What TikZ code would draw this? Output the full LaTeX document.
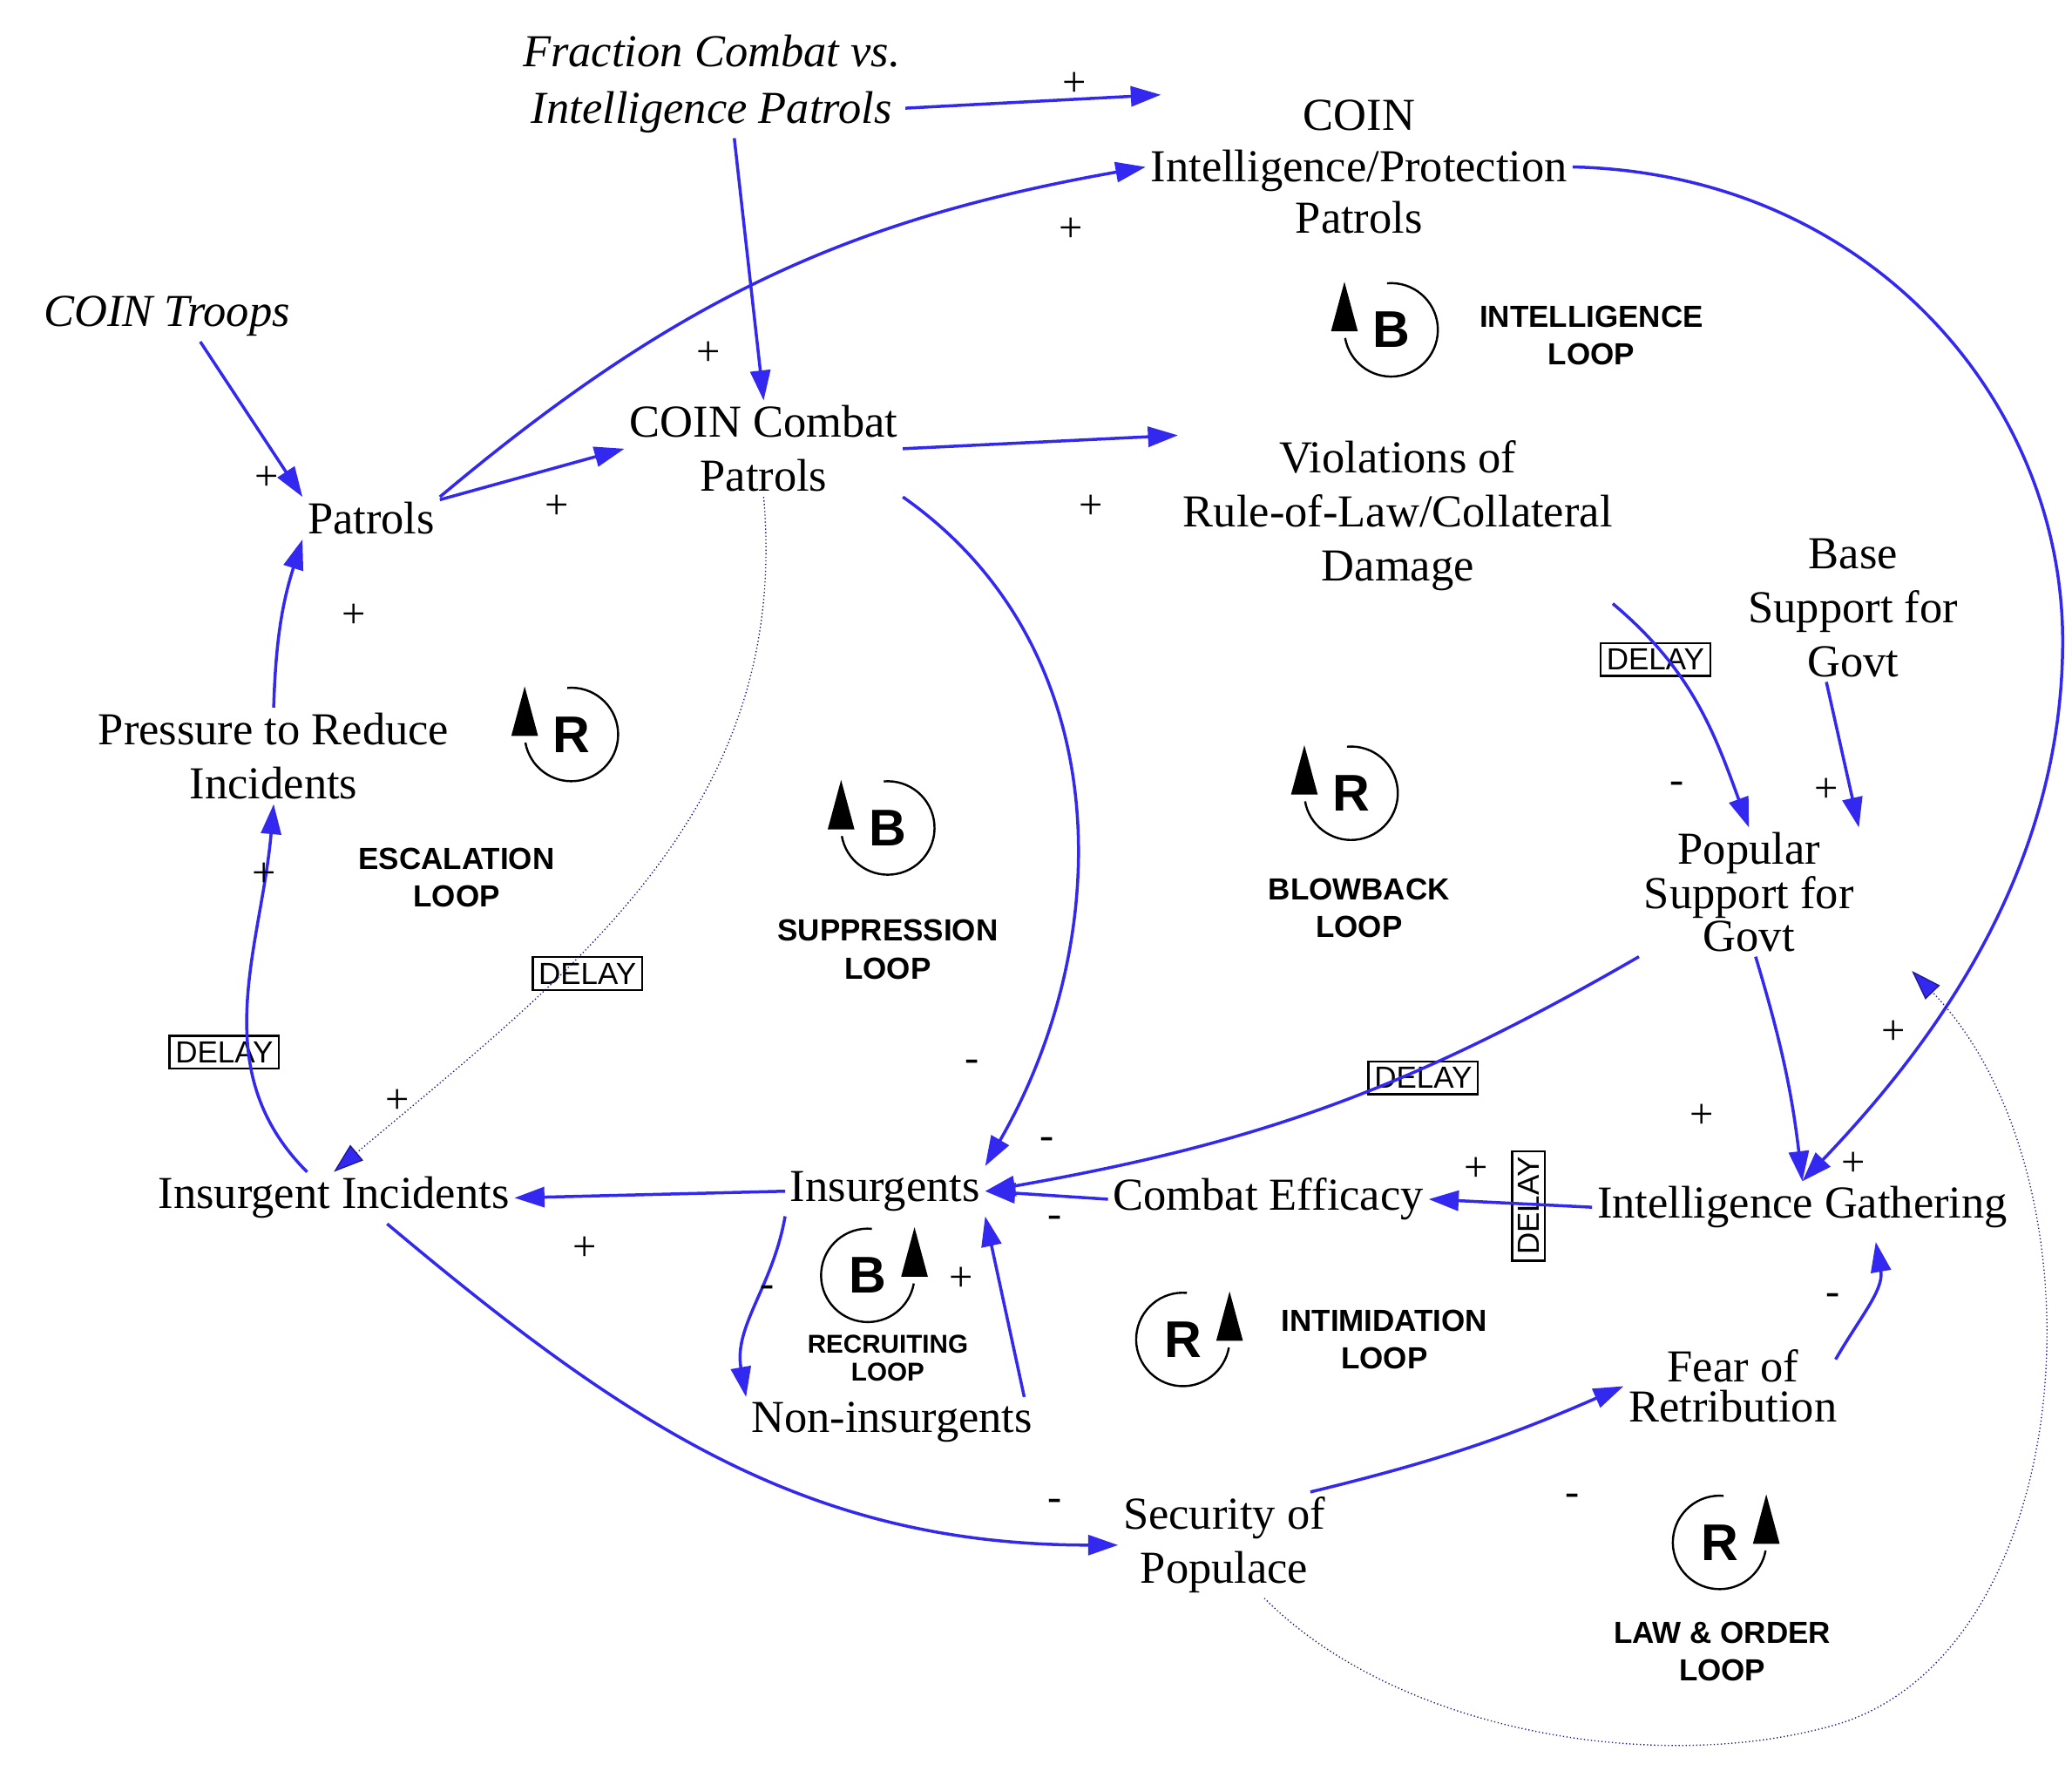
\documentclass[tikz,border=0pt]{standalone}
\usepackage{fontspec}
\setmainfont{Liberation Serif}
\newfontfamily\lsans{Liberation Sans}
\usetikzlibrary{arrows.meta}
\definecolor{ab}{RGB}{50,40,240}
\begin{document}
\begin{tikzpicture}[x=0.02cm,y=-0.02cm,
 v/.style={align=center,font=\fontsize{19.5}{23}\selectfont,inner sep=2pt},
 vi/.style={v,font=\fontsize{19.5}{24}\selectfont\itshape},
 lp/.style={align=center,font=\lsans\bfseries\fontsize{13}{16}\selectfont},
 dl/.style={draw,line width=0.9pt,font=\lsans\fontsize{13}{13}\selectfont,inner sep=2.5pt},
 a/.style={draw=ab,line width=1.3pt,-{Triangle[length=0.45cm,width=0.3cm]}},
 ad/.style={draw=ab!60!black,densely dotted,line width=0.5pt,-{Triangle[length=0.45cm,width=0.3cm,fill=ab]}},
 s/.style={font=\fontsize{18}{18}\selectfont,inner sep=0pt}]
\useasboundingbox (0,0) rectangle (1552,1326);
% nodes
\node[vi] (frac) at (533,63) {Fraction Combat vs.\\Intelligence Patrols};
\node[v,font=\fontsize{19.5}{22}\selectfont] (intel) at (1018,125) {COIN\\Intelligence/Protection\\Patrols};
\node[vi] (troops) at (125,237) {COIN Troops};
\node[v] (patrols) at (278,388) {Patrols};
\node[v] (combat) at (572,336) {COIN Combat\\Patrols};
\node[v] (viol) at (1047,386) {Violations of\\Rule-of-Law/Collateral\\Damage};
\node[v] (base) at (1388,455) {Base\\Support for\\Govt};
\node[v,font=\fontsize{19.5}{17}\selectfont] (pop) at (1310,668) {Popular\\Support for\\Govt};
\node[v] (press) at (205,566) {Pressure to Reduce\\Incidents};
\node[v] (incid) at (250,897) {Insurgent Incidents};
\node[v] (insurg) at (663,892) {Insurgents};
\node[v] (eff) at (950,898) {Combat Efficacy};
\node[v] (gath) at (1350,904) {Intelligence Gathering};
\node[v] (non) at (668,1065) {Non-insurgents};
\node[v,font=\fontsize{19.5}{17}\selectfont] (fear) at (1298,1038) {Fear of\\Retribution};
\node[v] (sec) at (917,1157) {Security of\\Populace};
% loop labels
\node[lp] (l1) at (1192,251) {INTELLIGENCE\\LOOP};
\node[lp] (l2) at (342,657) {ESCALATION\\LOOP};
\node[lp] (l3) at (665,711) {SUPPRESSION\\LOOP};
\node[lp] (l4) at (1018,680) {BLOWBACK\\LOOP};
\node[lp,font=\lsans\bfseries\fontsize{11}{12}\selectfont] (l5) at (665,1017) {RECRUITING\\LOOP};
\node[lp] (l6) at (1037,1003) {INTIMIDATION\\LOOP};
\node[lp] (l7) at (1290,1237) {LAW \& ORDER\\LOOP};
% loop markers
\foreach \nm/\px/\py/\lt/\sd in {m1/1042/247/B/L,m2/428/550/R/L,m3/665/620/B/L,m4/1012/594/R/L,m5/650/955/B/R,m6/886/1003/R/R,m7/1288/1155/R/R}{
 \begin{scope}[shift={(\px,\py)},x=1cm,y=1cm]
  \node[font=\lsans\bfseries\fontsize{22}{22}\selectfont] (\nm) at (0,0) {\lt};
  \if\sd L
   \draw[line width=0.9pt] (95:0.7) arc (95:-170:0.7);
   \fill (-0.9,-0.02) -- (-0.5,-0.02) -- (-0.7,0.72) -- cycle;
  \else
   \draw[line width=0.9pt] (85:0.7) arc (85:350:0.7);
   \fill (0.9,-0.02) -- (0.5,-0.02) -- (0.7,0.72) -- cycle;
  \fi
 \end{scope}}
% delay boxes
\node[dl] (d1) at (1240,494) {DELAY};
\node[dl] (d2) at (440,729) {DELAY};
\node[dl] (d3) at (168,788) {DELAY};
\node[dl] (d4) at (1066,807) {DELAY};
\node[dl,rotate=90] (d5) at (1145,903) {DELAY};
% arrows
\draw[a] (frac.east) ++(0,18) to (intel.160);
\draw[a] (frac.south) ++(17,0) to (combat.north);
\draw[a] (patrols.north east) to[out=40,in=190] (intel.west);
\draw[a] (troops.south) ++(25,0) to (patrols.north west);
\draw[a] (patrols.15) to (combat.west);
\draw[a] (combat.east) to (viol.north west);
\draw[a] (combat.south east) to[out=-35,in=60] (insurg.north east);
\draw[ad] (combat.south) to[out=-85,in=40] (incid.north);
\draw[a] (press.north) to[bend left=8] (patrols.south west);
\draw[a] (incid.north) ++(-20,0) to[out=135,in=-95] (press.south);
\draw[a] (insurg.west) to (incid.east);
\draw[a] (insurg.south west) to[out=-100,in=100] (non.north west);
\draw[a] (non.north east) ++(-10,0) to (insurg.south east);
\draw[a] (eff.west) to (insurg.east);
\draw[a] (pop.south west) to[out=-150,in=10] (insurg.east);
\draw[a] (gath.west) to (eff.east);
\draw[a] (intel.east) .. controls (1400,130) and (1545,300) .. (1545,480) .. controls (1545,650) and (1450,780) .. (gath.north);
\draw[a] (1208,452) to[out=-40,in=110] (pop.north);
\draw[a] (base.south) ++(-20,0) to (pop.north east);
\draw[a] (pop.south) ++(5,0) to[bend left=5] (gath.north);
\draw[a] (incid.south) ++(40,0) to[out=-40,in=180] (sec.west);
\draw[a] (sec.north east) ++(-15,0) to[bend right=5] (fear.west);
\draw[a] (fear.east) ++(-5,-20) to[out=60,in=-80] (1405,930);
\draw[ad] (sec.south) ++(30,0) .. controls (1050,1300) and (1250,1330) .. (1380,1290) .. controls (1560,1230) and (1580,880) .. (1432,727);
% signs
\foreach \x/\y/\t in {805/63/+,531/265/+,802/172/+,200/358/+,417/380/+,817/380/+,728/798/-,298/825/+,265/461/+,198/655/+,438/935/+,575/967/-,720/958/+,790/915/-,784/856/-,1106/876/+,1388/872/+,1256/590/-,1368/592/+,1275/836/+,790/1127/-,1178/1123/-,1373/973/-,1418/773/+}
 \node[s] at (\x,\y) {\t};
\end{tikzpicture}
\end{document}
